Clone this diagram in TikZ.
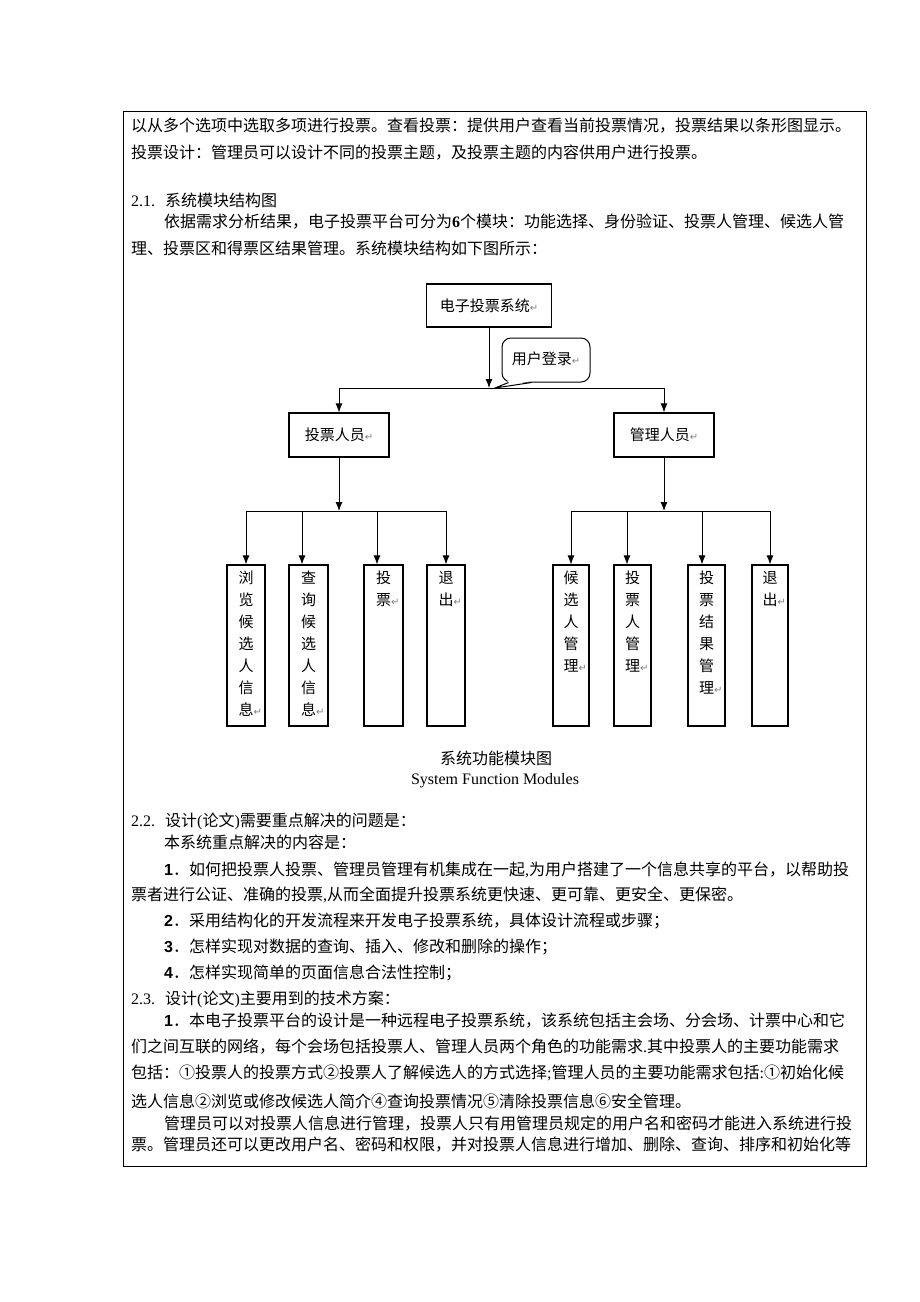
\documentclass[tikz,border=0pt]{standalone}
\usepackage{fontspec}
\setmainfont{Liberation Serif}
\newfontfamily\cjk{Noto Sans CJK SC}
\newfontfamily\lsans{Liberation Sans}
\newfontfamily\arw{DejaVu Sans}
\usetikzlibrary{arrows.meta,positioning}
\XeTeXlinebreaklocale "zh"
\XeTeXlinebreakskip=0pt plus 1pt

\newcommand{\ret}{{\arw\fontsize{10}{10}\selectfont\color{gray}↵}}
\newcommand{\num}[1]{{\lsans\bfseries #1}．}
\newcommand{\secno}[1]{\makebox[34pt][l]{\rmfamily #1}}
\newcommand{\full}[2]{\hbox to #1pt{#2}}
\newcommand{\stack}[1]{\parbox[t][161pt][t]{34pt}{\centering\vspace*{6pt}#1}}

\begin{document}
\begin{tikzpicture}[x=1pt,y=-1pt]
      \tikzstyle{txt}=[anchor=base west, inner sep=0pt, font=\cjk\fontsize{16}{20}\selectfont]
      \tikzstyle{blk}=[rectangle, draw, line width=1.1pt, minimum width=100pt, minimum height=44pt, inner sep=0pt, font=\cjk\fontsize{15}{18}\selectfont]
      \tikzstyle{col}=[rectangle, draw, line width=1.1pt, minimum height=161pt, inner sep=0pt, font=\cjk\fontsize{15}{22}\selectfont]
      \tikzstyle{link}=[-{Latex[length=9pt,width=7pt]}, line width=1pt]
      \fill[white] (0,0) rectangle (920,1302);
      \useasboundingbox (0,0) rectangle (920,1302);
      \draw[line width=0.8pt] (123,111) rectangle (866,1166);

      % text above the chart
      \node[txt] (l1) at (131,131) {\full{727}{以从多个选项中选取多项进行投票。查看投票：提供用户查看当前投票情况，投票结果以条形图显示。}};
      \node[txt] (l2) at (131,158) {投票设计：管理员可以设计不同的投票主题，及投票主题的内容供用户进行投票。};
      \node[txt] (h21) at (131,206) {\secno{2.1.}系统模块结构图};
      \node[txt] (l3) at (164,227) {\full{694}{依据需求分析结果，电子投票平台可分为{\rmfamily\bfseries 6}个模块：功能选择、身份验证、投票人管理、候选人管}};
      \node[txt] (l4) at (131,254) {理、投票区和得票区结果管理。系统模块结构如下图所示：};

      % the chart
      \node[blk, minimum width=125pt, minimum height=43pt] (sys) at (489,305.5) {电子投票系统\ret};
      \node[draw, rounded corners=9pt, line width=1pt, minimum width=88pt, minimum height=44pt, font=\cjk\fontsize{15}{18}\selectfont] (login) at (546,360) {\raisebox{3pt}{用户登录\ret}};
      \coordinate (tip) at (495,388);
      \fill[white] ([xshift=7pt,yshift=1.5pt]login.south west) -- (tip) -- ([xshift=30pt,yshift=1.5pt]login.south west) -- cycle;
      \draw[line width=1pt] ([xshift=7pt]login.south west) -- (tip) -- ([xshift=30pt]login.south west);
      \node[blk] (voter) at (339,435) {投票人员\ret};
      \node[blk] (admin) at (664,435) {管理人员\ret};
      \coordinate (jn) at (489,388);
      \coordinate (jl) at (339,511);
      \coordinate (jr) at (664,511);

      \node[col, minimum width=38pt] (b1) at (246,645.5) {\stack{浏\\览\\候\\选\\人\\信\\息\rlap{\ret}}};
      \node[col, minimum width=39pt] (b2) at (308.5,645.5) {\stack{查\\询\\候\\选\\人\\信\\息\rlap{\ret}}};
      \node[col, minimum width=39pt] (b3) at (383.5,645.5) {\stack{投\\票\rlap{\ret}}};
      \node[col, minimum width=38pt] (b4) at (446,645.5) {\stack{退\\出\rlap{\ret}}};
      \node[col, minimum width=36pt] (c1) at (571,645.5) {\stack{候\\选\\人\\管\\理\rlap{\ret}}};
      \node[col, minimum width=37pt] (c2) at (632.5,645.5) {\stack{投\\票\\人\\管\\理\rlap{\ret}}};
      \node[col, minimum width=37pt] (c3) at (706.5,645.5) {\stack{投\\票\\结\\果\\管\\理\rlap{\ret}}};
      \node[col, minimum width=36pt] (c4) at (770,645.5) {\stack{退\\出\rlap{\ret}}};

      \draw[link] (sys) -- (jn);
      \draw[link] (jn) -| (voter);
      \draw[link] (jn) -| (admin);
      \draw[link] (voter) -- (jl);
      \draw[link] (jl) -| (b1);
      \draw[link] (jl) -| ([xshift=-6.5pt]b2.north);
      \draw[link] (jl) -| ([xshift=-6.5pt]b3.north);
      \draw[link] (jl) -| (b4);
      \draw[link] (admin) -- (jr);
      \draw[link] (jr) -| (c1);
      \draw[link] (jr) -| ([xshift=-5.5pt]c2.north);
      \draw[link] (jr) -| ([xshift=-4.5pt]c3.north);
      \draw[link] (jr) -| (c4);

      % caption and text below
      \node[anchor=base, inner sep=0pt, font=\cjk\fontsize{16}{20}\selectfont] (cap1) at (496,764) {系统功能模块图};
      \node[anchor=base, inner sep=0pt, font=\rmfamily\fontsize{16}{20}\selectfont] (cap2) at (495,784) {System Function Modules};
      \node[txt] (h22) at (131,826) {\secno{2.2.}设计{\rmfamily(}论文{\rmfamily)}需要重点解决的问题是：};
      \node[txt] (l5) at (164,848) {本系统重点解决的内容是：};
      \node[txt] (l6) at (164,875) {\full{694}{\num{1}如何把投票人投票、管理员管理有机集成在一起{\rmfamily,}为用户搭建了一个信息共享的平台，以帮助投}};
      \node[txt] (l7) at (131,900) {票者进行公证、准确的投票{\rmfamily,}从而全面提升投票系统更快速、更可靠、更安全、更保密。};
      \node[txt] (l8) at (164,926) {\num{2}采用结构化的开发流程来开发电子投票系统，具体设计流程或步骤；};
      \node[txt] (l9) at (164,952) {\num{3}怎样实现对数据的查询、插入、修改和删除的操作；};
      \node[txt] (l10) at (164,978) {\num{4}怎样实现简单的页面信息合法性控制；};
      \node[txt] (h23) at (131,1004) {\secno{2.3.}设计{\rmfamily(}论文{\rmfamily)}主要用到的技术方案：};
      \node[txt] (l11) at (164,1026) {\full{694}{\num{1}本电子投票平台的设计是一种远程电子投票系统，该系统包括主会场、分会场、计票中心和它}};
      \node[txt] (l12) at (131,1052) {\full{727}{们之间互联的网络，每个会场包括投票人、管理人员两个角色的功能需求{\rmfamily.}其中投票人的主要功能需求}};
      \node[txt] (l13) at (131,1078) {\full{727}{包括：①投票人的投票方式②投票人了解候选人的方式选择{\rmfamily;}管理人员的主要功能需求包括{\rmfamily:}①初始化候}};
      \node[txt] (l14) at (131,1107) {选人信息②浏览或修改候选人简介④查询投票情况⑤清除投票信息⑥安全管理。};
      \node[txt] (l15) at (164,1129) {\full{694}{管理员可以对投票人信息进行管理，投票人只有用管理员规定的用户名和密码才能进入系统进行投}};
      \node[txt] (l16) at (131,1150) {\full{727}{票。管理员还可以更改用户名、密码和权限，并对投票人信息进行增加、删除、查询、排序和初始化等}};
    \end{tikzpicture}
\end{document}
